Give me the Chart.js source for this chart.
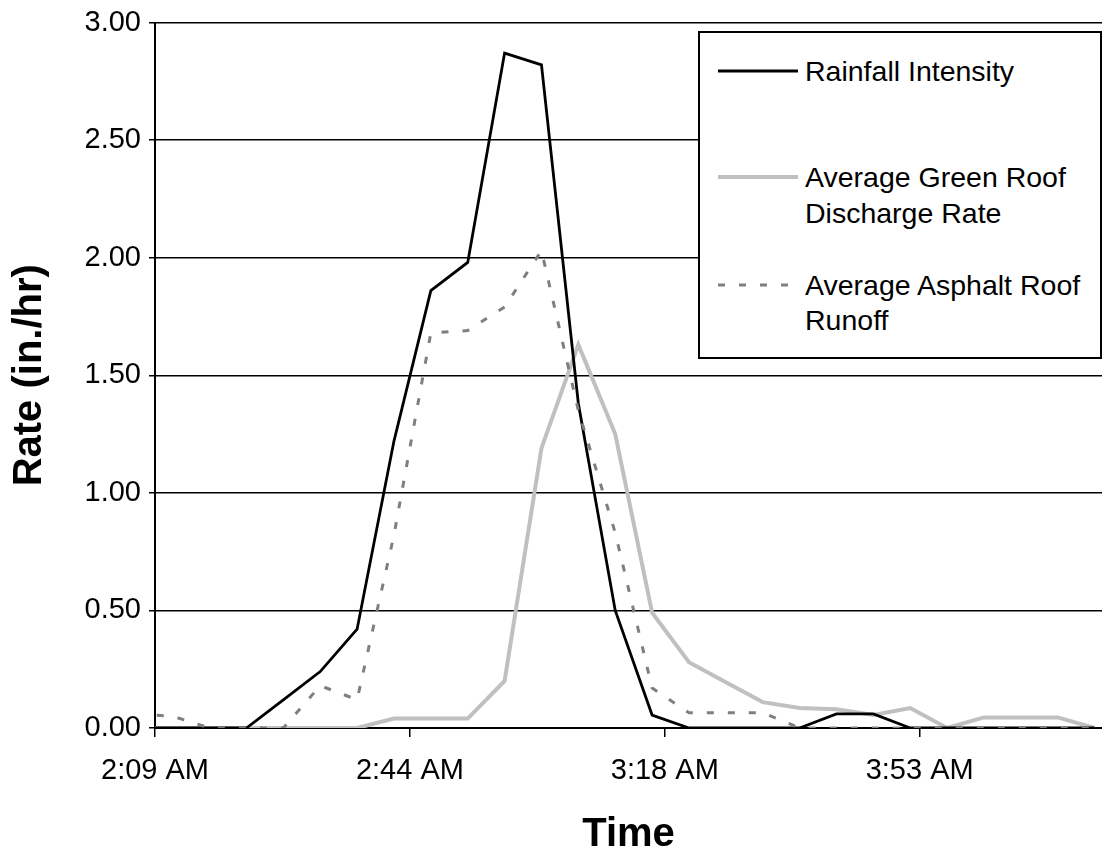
<!DOCTYPE html>
<html><head><meta charset="utf-8">
<script src="https://cdn.jsdelivr.net/npm/chart.js@4.4.1/dist/chart.umd.min.js"></script>
<style>
html,body{margin:0;padding:0;background:#fff;}
#wrap{position:relative;width:1102px;height:853px;overflow:hidden;}
#legend{position:absolute;left:698px;top:31px;width:404px;height:328px;box-sizing:border-box;border:2px solid #000;background:#fff;font-family:"Liberation Sans",Arial,sans-serif;font-size:28.5px;color:#000;}
.lt{position:absolute;left:105px;white-space:nowrap;line-height:36px;height:36px;}
#legend svg{position:absolute;left:0;top:0;}
</style></head><body>
<div id="wrap"><canvas id="c" width="1102" height="853"></canvas>
<div id="legend">
<svg width="400" height="324">
<line x1="18" y1="38" x2="98" y2="38" stroke="#000" stroke-width="2.8"/>
<line x1="18" y1="144" x2="98" y2="144" stroke="#c0c0c0" stroke-width="4"/>
<line x1="18" y1="252" x2="98" y2="252" stroke="#7f7f7f" stroke-width="3" stroke-dasharray="7,14"/>
</svg>
<div class="lt" style="top:20px">Rainfall Intensity</div>
<div class="lt" style="top:126px">Average Green Roof</div>
<div class="lt" style="top:162px">Discharge Rate</div>
<div class="lt" style="top:234px">Average Asphalt Roof</div>
<div class="lt" style="top:269px">Runoff</div>
</div>
</div>
<script>
const times = ['2:07','2:12','2:17','2:22','2:27','2:32','2:37','2:42','2:47','2:52','2:57','3:02','3:07','3:12','3:17','3:22','3:27','3:32','3:37','3:42','3:47','3:52','3:57','4:02','4:07','4:12','4:17'];
const rainfall    = [0,0,0,0,0.12,0.24,0.42,1.22,1.86,1.98,2.87,2.82,1.38,0.50,0.055,0,0,0,0,0.06,0.06,0,0,0,0,0,0];
const greenRoof   = [0,0,0,0,0,0,0,0.04,0.04,0.04,0.20,1.19,1.63,1.25,0.49,0.28,0.195,0.11,0.085,0.08,0.055,0.085,0,0.045,0.045,0.045,0];
const asphaltRoof = [0.06,0.05,0,0,0,0.18,0.12,0.82,1.68,1.69,1.79,2.03,1.35,0.83,0.17,0.065,0.065,0.065,0,0,0,0,0,0,0,0,0];
const yTicks = [0,0.5,1,1.5,2,2.5,3];
const xTickMinutes = [129.6,164.16,198.72,233.28];
const xTickLabels = ['2:09 AM','2:44 AM','3:18 AM','3:53 AM'];

const FONT = '"Liberation Sans", Arial, sans-serif';
const toMin = t => { const p = t.split(':').map(Number); return p[0]*60 + p[1]; };
const pts = arr => arr.map((v,i) => ({x: toMin(times[i]), y: v}));

new Chart(document.getElementById('c'), {
  type: 'line',
  data: {
    datasets: [
      {label:'Rainfall Intensity', data: pts(rainfall), borderColor:'#000', borderWidth:2.8, pointRadius:0, tension:0, order:2},
      {label:'Average Green Roof Discharge Rate', data: pts(greenRoof), borderColor:'#c0c0c0', borderWidth:4, pointRadius:0, tension:0, order:3},
      {label:'Average Asphalt Roof Runoff', data: pts(asphaltRoof), borderColor:'#7f7f7f', borderWidth:3, borderDash:[7,14], pointRadius:0, tension:0, order:1}
    ]
  },
  options: {
    responsive:false, animation:false, devicePixelRatio:1,
    layout:{padding:{top:22,right:0,bottom:0,left:0}},
    plugins:{legend:{display:false}, tooltip:{enabled:false}},
    scales:{
      x:{
        type:'linear', min:129.6, max:258,
        afterBuildTicks: s => { s.ticks = xTickMinutes.map(v => ({value:v})); },
        ticks:{callback:(v,i) => xTickLabels[i], font:{family:FONT,size:29}, color:'#000', padding:17, maxRotation:0, autoSkip:false},
        grid:{drawOnChartArea:false, drawTicks:true, tickLength:9, color:'#000', lineWidth:1.5},
        border:{display:true, color:'#000', width:2},
        title:{display:true, text:'Time', font:{family:FONT,size:40,weight:'bold',lineHeight:0.9}, color:'#000', padding:{top:0,bottom:0}},
        afterFit: s => { s.height = 125; }
      },
      y:{
        min:0, max:3,
        afterBuildTicks: s => { s.ticks = yTicks.map(v => ({value:v})); },
        ticks:{callback: v => Number(v).toFixed(2), font:{family:FONT,size:29,lineHeight:1}, color:'#000', padding:8},
        grid:{color:'#000', lineWidth:1.5, tickLength:6, drawTicks:true},
        border:{display:true, color:'#000', width:2},
        title:{display:true, text:'Rate (in./hr)', font:{family:FONT,size:40,weight:'bold',lineHeight:1}, color:'#000', padding:{top:10,bottom:0}},
        afterFit: s => { s.width = 155; }
      }
    }
  }
});
</script>
</body></html>
